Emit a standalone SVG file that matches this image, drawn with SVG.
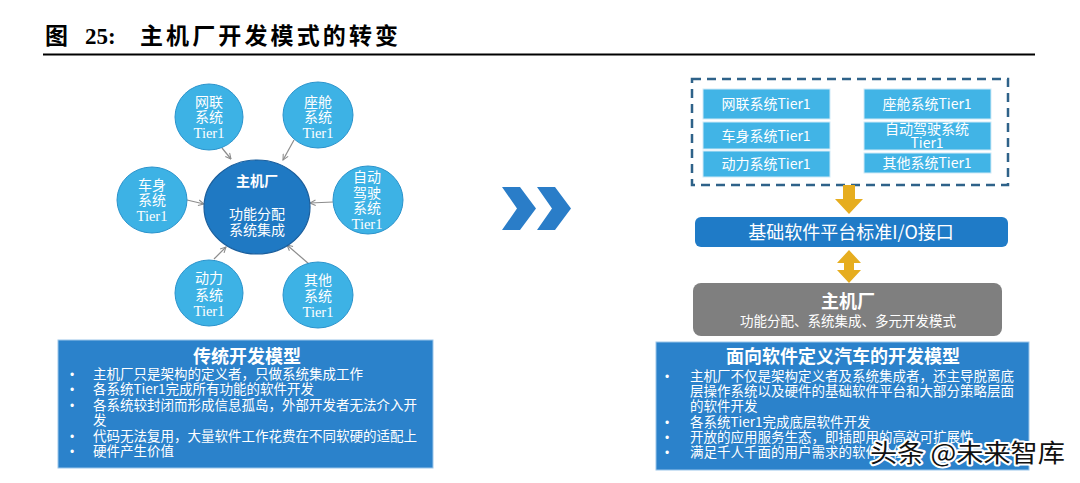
<svg xmlns="http://www.w3.org/2000/svg" width="1080" height="483" viewBox="0 0 1080 483">
<defs>
<style>
.cjk{font-family:"Noto Sans CJK SC","Noto Sans",sans-serif;}
.sc{fill:#3db2e5;stroke:#2a93cc;stroke-width:1;}
.ct{font-family:"Noto Sans CJK SC",sans-serif;font-size:14px;fill:#fff;text-anchor:middle;}
.tr{font-family:"Liberation Serif",serif;font-size:14.5px;fill:#fff;text-anchor:middle;}
.conn{stroke:#8c8c8c;stroke-width:1.2;fill:none;marker-end:url(#ah);}
.bx{fill:#41b4e6;stroke:#cfeaf7;stroke-width:1;}
.bt{font-family:"Noto Sans CJK SC",sans-serif;font-size:14px;fill:#fff;text-anchor:middle;}
.body{font-family:"Noto Sans CJK SC",sans-serif;font-size:13.5px;fill:#fff;}
.bul{font-family:"Liberation Sans",sans-serif;font-size:12px;fill:#fff;}
.hd{font-family:"Noto Sans CJK SC",sans-serif;font-size:18px;font-weight:bold;fill:#fff;text-anchor:middle;}
.yel{fill:#e6ad1f;}
.chev{fill:#2a7dc8;}
</style>
<marker id="ah" viewBox="0 0 10 10" refX="9" refY="5" markerWidth="7" markerHeight="7" orient="auto" markerUnits="userSpaceOnUse">
<path d="M1,1 L9,5 L1,9" fill="none" stroke="#8c8c8c" stroke-width="1.5"/>
</marker>
</defs>
<rect width="1080" height="483" fill="#fff"/>

<g id="title">
<text y="44" font-size="23" font-weight="bold" fill="#000"><tspan x="45" class="cjk">图</tspan><tspan x="85" font-family="Liberation Serif, serif">25:</tspan><tspan x="140" class="cjk" textLength="258" lengthAdjust="spacing">主机厂开发模式的转变</tspan></text>
<line x1="43" y1="54.5" x2="1035" y2="54.5" stroke="#000" stroke-width="2"/>
</g>

<g id="connectors">
<line class="conn" x1="222" y1="148" x2="231" y2="159"/>
<line class="conn" x1="294" y1="140" x2="283" y2="160"/>
<line class="conn" x1="187" y1="200" x2="204" y2="204"/>
<line class="conn" x1="333" y1="202" x2="310" y2="203"/>
<line class="conn" x1="214" y1="259" x2="226" y2="247"/>
<line class="conn" x1="309" y1="264" x2="287" y2="245"/>
</g>

<g id="oem">
<ellipse cx="257" cy="207" rx="53" ry="47" fill="#1f79c3" stroke="#1a5e9c" stroke-width="1.2"/>
<text x="257" y="186" class="ct" font-size="16" font-weight="bold">主机厂</text>
<text x="257" y="219" class="ct" font-size="13.5">功能分配</text>
<text x="257" y="235" class="ct" font-size="13.5">系统集成</text>
</g>

<g id="c-wanglian">
<ellipse class="sc" cx="209" cy="117" rx="34" ry="33"/>
<text x="209" y="107" class="ct">网联</text>
<text x="209" y="122" class="ct">系统</text>
<text x="209" y="138" class="tr">Tier1</text>
</g>
<g id="c-zuocang">
<ellipse class="sc" cx="318" cy="115" rx="35" ry="33"/>
<text x="318" y="107" class="ct">座舱</text>
<text x="318" y="122" class="ct">系统</text>
<text x="318" y="138" class="tr">Tier1</text>
</g>
<g id="c-cheshen">
<ellipse class="sc" cx="152" cy="200" rx="35" ry="33"/>
<text x="152" y="190" class="ct">车身</text>
<text x="152" y="205" class="ct">系统</text>
<text x="152" y="221" class="tr">Tier1</text>
</g>
<g id="c-zidong">
<ellipse class="sc" cx="368" cy="200" rx="35" ry="34"/>
<text x="367" y="182" class="ct">自动</text>
<text x="367" y="198" class="ct">驾驶</text>
<text x="367" y="213" class="ct">系统</text>
<text x="367" y="229" class="tr">Tier1</text>
</g>
<g id="c-dongli">
<ellipse class="sc" cx="209" cy="293" rx="34" ry="33"/>
<text x="209" y="283" class="ct">动力</text>
<text x="209" y="300" class="ct">系统</text>
<text x="209" y="316" class="tr">Tier1</text>
</g>
<g id="c-qita">
<ellipse class="sc" cx="318" cy="295" rx="35" ry="33"/>
<text x="318" y="285" class="ct">其他</text>
<text x="318" y="301" class="ct">系统</text>
<text x="318" y="317" class="tr">Tier1</text>
</g>

<g id="left-model">
<rect x="58" y="340" width="375" height="128" fill="#2b82cb" stroke="#9cc6ea" stroke-width="1"/>
<text x="247" y="363" class="hd">传统开发模型</text>
<g class="bul">
<text x="70" y="379">•</text><text x="70" y="394">•</text><text x="70" y="410">•</text><text x="70" y="441">•</text><text x="70" y="456">•</text>
</g>
<g class="body">
<text x="93" y="379">主机厂只是架构的定义者，只做系统集成工作</text>
<text x="93" y="394">各系统Tier1完成所有功能的软件开发</text>
<text x="93" y="410">各系统较封闭而形成信息孤岛，外部开发者无法介入开</text>
<text x="93" y="425">发</text>
<text x="93" y="441">代码无法复用，大量软件工作花费在不同软硬的适配上</text>
<text x="93" y="456">硬件产生价值</text>
</g>
</g>

<g id="chevrons">
<polygon class="chev" points="502,187 520,187 536,208.5 520,230 502,230 517,208.5"/>
<polygon class="chev" points="537,187 555,187 571,208.5 555,230 537,230 552,208.5"/>
</g>

<g id="tier1-group">
<rect x="692" y="79" width="316" height="106" fill="none" stroke="#2e6289" stroke-width="2.5" stroke-dasharray="9 6"/>
<g id="b-wanglian"><rect class="bx" x="703" y="89" width="127" height="30"/><text x="766" y="109" class="bt">网联系统Tier1</text></g>
<g id="b-cheshen"><rect class="bx" x="703" y="122" width="127" height="27"/><text x="766" y="141" class="bt">车身系统Tier1</text></g>
<g id="b-dongli"><rect class="bx" x="703" y="151" width="127" height="26"/><text x="766" y="169" class="bt">动力系统Tier1</text></g>
<g id="b-zuocang"><rect class="bx" x="864" y="89" width="127" height="30"/><text x="927" y="109" class="bt">座舱系统Tier1</text></g>
<g id="b-zidong"><rect class="bx" x="864" y="122" width="127" height="28"/><text x="927" y="134" class="bt" font-size="13.5">自动驾驶系统</text><text x="927" y="148" class="bt" font-size="13.5">Tier1</text></g>
<g id="b-qita"><rect class="bx" x="864" y="153" width="127" height="20"/><text x="927" y="168" class="bt">其他系统Tier1</text></g>
</g>

<g id="arrows-y">
<polygon class="yel" points="843,185 855,185 855,199 863,199 849,214 835,199 843,199"/>
<polygon class="yel" points="849,250 861,263 854,263 854,270 861,270 849,283 837,270 844,270 844,263 837,263"/>
</g>

<g id="io-bar">
<rect x="695" y="217" width="313" height="30" rx="6" fill="#1f7bc7"/>
<text x="851" y="239" class="cjk" font-size="18" fill="#fff" text-anchor="middle">基础软件平台标准I/O接口</text>
</g>

<g id="oem-right">
<rect x="693" y="283" width="309" height="53" rx="8" fill="#7f7f7f"/>
<text x="848" y="308" class="hd">主机厂</text>
<text x="848" y="326" class="cjk" font-size="13.5" fill="#fff" text-anchor="middle">功能分配、系统集成、多元开发模式</text>
</g>

<g id="right-model">
<rect x="656" y="342" width="373" height="128" fill="#2b82cb" stroke="#9cc6ea" stroke-width="1"/>
<text x="843" y="363" class="hd">面向软件定义汽车的开发模型</text>
<g class="bul">
<text x="665" y="381">•</text><text x="665" y="427">•</text><text x="665" y="442">•</text><text x="665" y="457">•</text>
</g>
<g class="body">
<text x="690" y="381">主机厂不仅是架构定义者及系统集成者，还主导脱离底</text>
<text x="690" y="396">层操作系统以及硬件的基础软件平台和大部分策略层面</text>
<text x="690" y="411">的软件开发</text>
<text x="690" y="427">各系统Tier1完成底层软件开发</text>
<text x="690" y="442">开放的应用服务生态，即插即用的高效可扩展性</text>
<text x="690" y="457">满足千人千面的用户需求的软件价值</text>
</g>
</g>

<g id="watermark">
<text x="870" y="462" class="cjk" font-size="25" fill="#111" stroke="#fff" stroke-width="4" stroke-linejoin="round" paint-order="stroke" textLength="195" lengthAdjust="spacingAndGlyphs">头条 @未来智库</text>
</g>
</svg>
